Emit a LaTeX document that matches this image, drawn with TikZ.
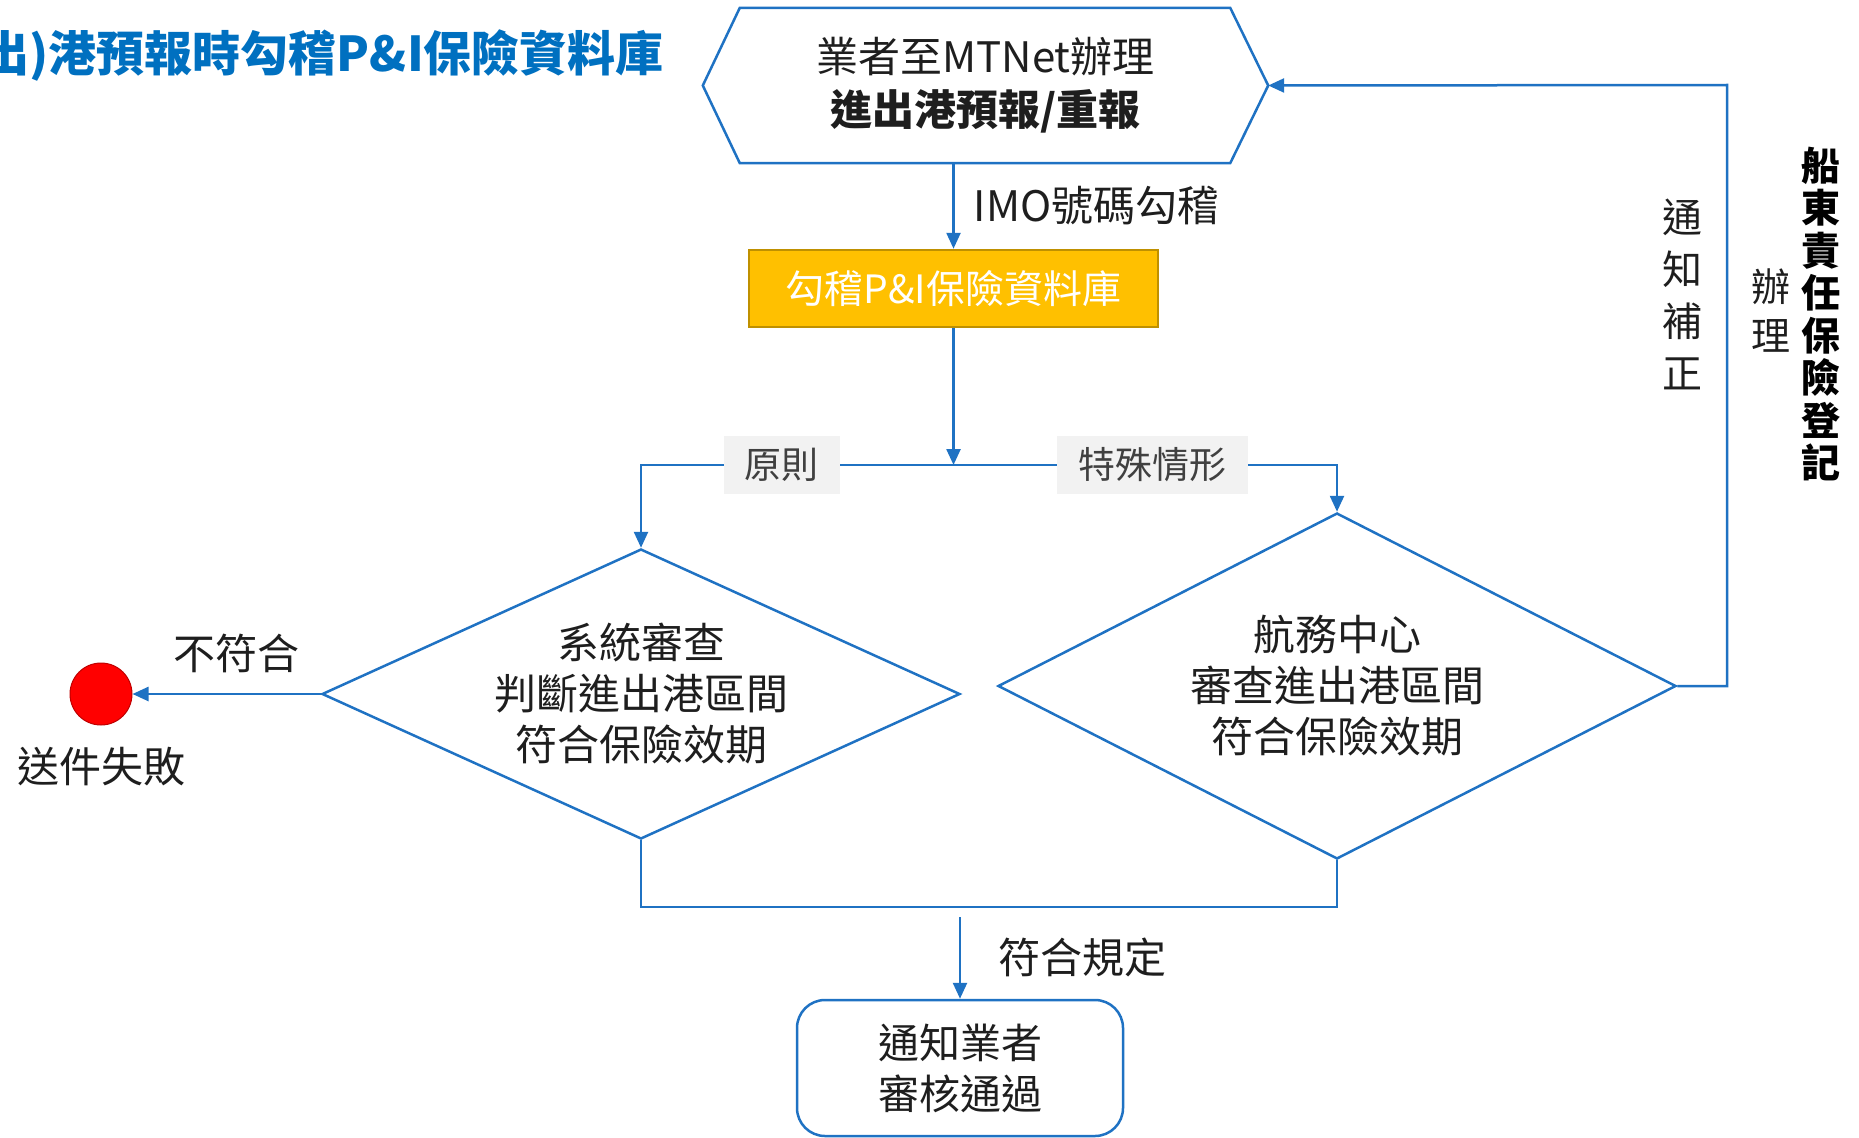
\documentclass[tikz,border=0pt]{standalone}
\usepackage{fontspec}
\setmainfont{Noto Sans CJK TC}
\usetikzlibrary{positioning,shapes.geometric,arrows.meta}
\definecolor{flowblue}{RGB}{31,114,195}
\definecolor{titleblue}{RGB}{0,112,192}
\definecolor{dbgold}{RGB}{255,192,0}
\definecolor{dbedge}{RGB}{191,144,0}
\definecolor{tagfill}{RGB}{242,242,242}
\definecolor{ink}{RGB}{30,30,30}
\newcommand{\fs}[2]{\fontsize{#1}{#2}\selectfont}

\begin{document}
\begin{tikzpicture}[x=1pt,y=-1pt,
  line/.style={draw=flowblue,line width=2.5pt},
  arr/.style={line,-{Triangle[length=16pt,width=14pt]}},
  txt/.style={text=ink,align=center,inner sep=0pt},
  decide/.style={diamond,draw=flowblue,line width=2.5pt,txt,font=\fs{42}{51}},
  tag/.style={fill=tagfill,text=ink!85,inner sep=0pt,minimum height=58pt,font=\fs{37}{44}}]
\useasboundingbox (0,0) rectangle (1859,1137);

\node[txt,text=titleblue,font=\bfseries\fs{48}{56},anchor=east] (title) at (664,56) {出)港預報時勾稽P\&I保險資料庫};

\node[txt,minimum width=565pt,minimum height=155pt,font=\fs{42}{53}] (hex) at (985.5,85.5) {業者至MTNet辦理\\\textbf{進出港預報/重報}};
\draw[line] (hex.west) -- ([xshift=37pt]hex.north west) -- ([xshift=-38pt]hex.north east) -- (hex.east)
  -- ([xshift=-38pt]hex.south east) -- ([xshift=37pt]hex.south west) -- cycle;

\node[fill=dbgold,draw=dbedge,line width=2.5pt,minimum width=409pt,minimum height=77pt,inner sep=0pt,
  text=white,font=\fs{39}{46}] (pi) at (953.5,288.5) {勾稽P\&I保險資料庫};
\draw[arr] (pi.north |- hex.south) -- node[txt,right=19pt,font=\fs{42}{50}] (imo) {IMO號碼勾稽} (pi.north);

\coordinate (split) at (953.5,465);
\node[decide,aspect=2.2,minimum width=638pt,minimum height=290pt] (chk) at (641,694) {系統審查\\判斷進出港區間\\符合保險效期};
\node[decide,aspect=1.96,minimum width=678pt,minimum height=346pt] (port) at (1337,686) {航務中心\\審查進出港區間\\符合保險效期};

\draw[arr] (pi.south) -- (split);
\draw[arr] (split) -- node[tag,pos=0.55,minimum width=116pt] (rule) {原則} (split -| chk.north) -- (chk.north);
\draw[arr] (split) -- node[tag,pos=0.52,minimum width=191pt] (special) {特殊情形} (split -| port.north) -- (port.north);

\node[circle,fill=red,draw=red!75!black,line width=1pt,minimum size=62pt,inner sep=0pt] (fail) at (101,694) {};
\draw[arr] (chk.west) -- node[txt,above=20pt,pos=0.45,font=\fs{42}{50}] (nomatch) {不符合} (fail);
\node[txt,below=21pt of fail,font=\fs{42}{50}] (failtxt) {送件失敗};

\coordinate (back) at (1727,85);
\draw[arr] (port.east) -- (port.east -| back) -- (back) -- (hex.east);
\node[txt,font=\fs{40}{52}] (notify) at (1682,294) {通\\知\\補\\正};
\node[txt,font=\fs{39}{49}] (apply) at (1771,311) {辦\\理};
\node[txt,text=black,font=\bfseries\fs{39}{42.5}] (pni) at (1821,314) {船\\東\\責\\任\\保\\險\\登\\記};

\coordinate (merge) at (960,907);
\draw[line] (chk.south) -- (chk.south |- merge) -- (port.south |- merge) -- (port.south);
\node[txt,draw=flowblue,line width=2.5pt,rounded corners=28pt,minimum width=326pt,minimum height=136pt,
  font=\fs{41}{51}] (pass) at (960,1068) {通知業者\\審核通過};
\coordinate (passin) at (960,917);
\draw[arr] (passin) -- node[txt,right=37pt,font=\fs{42}{50}] (ruleok) {符合規定} (pass.north);
\end{tikzpicture}
\end{document}
